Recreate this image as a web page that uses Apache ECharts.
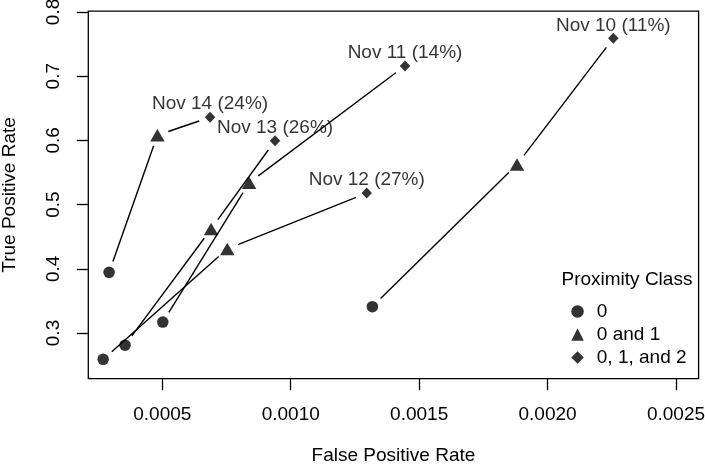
<!DOCTYPE html>
<html>
<head>
<meta charset="utf-8">
<script src="https://cdn.jsdelivr.net/npm/echarts@6/dist/echarts.min.js"></script>
<style>
html,body{margin:0;padding:0;background:#fff;}
#chart{width:705px;height:467px;}
</style>
</head>
<body>
<div id="chart"></div>
<script>
// ---- data ----
const dates = ['Nov 10', 'Nov 11', 'Nov 12', 'Nov 13', 'Nov 14'];
const pcts = ['11%', '14%', '27%', '26%', '24%'];
// Proximity class "0"
const fpr0 = [0.001318, 0.000502, 0.000270, 0.000355, 0.000293];
const tpr0 = [0.341, 0.317, 0.259, 0.281, 0.3945];
// Proximity class "0 and 1"
const fpr01 = [0.001881, 0.000838, 0.000753, 0.000690, 0.000481];
const tpr01 = [0.5625, 0.534, 0.431, 0.462, 0.608];
// Proximity class "0, 1, and 2"
const fpr012 = [0.002256, 0.001445, 0.001296, 0.000939, 0.000686];
const tpr012 = [0.759, 0.716, 0.518, 0.5995, 0.636];

const classNames = ['0', '0 and 1', '0, 1, and 2'];
const xTicks = [0.0005, 0.0010, 0.0015, 0.0020, 0.0025];
const yTicks = [0.3, 0.4, 0.5, 0.6, 0.7, 0.8];
const xLim = [0.0003, 0.0025];
const yLim = [0.25, 0.78];

// R-style 4% axis extension
function ext(l) { const d = (l[1] - l[0]) * 0.04; return [l[0] - d, l[1] + d]; }
const xr = ext(xLim), yr = ext(yLim);

const FONT = "'Liberation Sans', Arial, Helvetica, sans-serif";
const FS = 19;

const pairs = (xs, ys) => xs.map((x, i) => [x, ys[i]]);
const segData = dates.map((d, i) => [fpr0[i], tpr0[i], fpr01[i], tpr01[i], fpr012[i], tpr012[i]]);
const diamondData = dates.map((d, i) => ({ value: [fpr012[i], tpr012[i]], name: d + ' (' + pcts[i] + ')' }));

const chart = echarts.init(document.getElementById('chart'), null, { renderer: 'canvas' });
chart.setOption({
  animation: false,
  backgroundColor: '#fff',
  textStyle: { fontFamily: FONT, color: '#000' },
  grid: {
    left: 88.3, right: 6.4, top: 11.2, bottom: 88.3,
    containLabel: false, outerBoundsMode: 'none',
    show: true, borderColor: '#000', borderWidth: 1.3, backgroundColor: 'transparent'
  },
  title: {
    text: 'Proximity Class', left: 561.5, top: 270, padding: 0,
    textStyle: { fontFamily: FONT, fontSize: FS, fontWeight: 'normal', color: '#000' }
  },
  legend: {
    orient: 'vertical', left: 571.3, top: 302, padding: 0,
    itemWidth: 12.5, itemHeight: 12.5, itemGap: 4,
    selectedMode: false,
    textStyle: { fontFamily: FONT, fontSize: FS, color: '#000', padding: [0, 0, 0, 8] },
    data: [
      { name: classNames[0], icon: 'circle' },
      { name: classNames[1], icon: 'triangle' },
      { name: classNames[2], icon: 'diamond' }
    ]
  },
  xAxis: {
    type: 'value', min: xr[0], max: xr[1],
    name: 'False Positive Rate', nameLocation: 'middle', nameGap: 68,
    nameTextStyle: { fontFamily: FONT, fontSize: FS, color: '#000' },
    splitLine: { show: false },
    axisLine: { show: false },
    axisTick: { show: true, length: 11.5, lineStyle: { color: '#000', width: 1.3 }, customValues: xTicks },
    axisLabel: { show: true, margin: 27, fontFamily: FONT, fontSize: FS, color: '#000', customValues: xTicks,
      formatter: v => v.toFixed(4) }
  },
  yAxis: {
    type: 'value', min: yr[0], max: yr[1],
    name: 'True Positive Rate', nameLocation: 'middle', nameGap: 69,
    nameTextStyle: { fontFamily: FONT, fontSize: FS, color: '#000' },
    splitLine: { show: false },
    axisLine: { show: false },
    axisTick: { show: true, length: 11.5, lineStyle: { color: '#000', width: 1.3 }, customValues: yTicks },
    axisLabel: { show: true, margin: 25, rotate: 90, fontFamily: FONT, fontSize: FS, color: '#000', customValues: yTicks,
      formatter: v => v.toFixed(1) }
  },
  series: [
    {
      type: 'custom', name: 'connect', silent: true, z: 1,
      encode: { x: [0, 2, 4], y: [1, 3, 5] },
      data: segData,
      renderItem: function (params, api) {
        const p = [0, 1, 2].map(k => api.coord([api.value(2 * k), api.value(2 * k + 1)]));
        const gap = 11.5;
        const children = [];
        for (let k = 0; k < 2; k++) {
          const a = p[k], b = p[k + 1];
          const dx = b[0] - a[0], dy = b[1] - a[1];
          const len = Math.sqrt(dx * dx + dy * dy);
          if (len <= 2 * gap) continue;
          const ux = dx / len, uy = dy / len;
          children.push({
            type: 'line',
            shape: { x1: a[0] + ux * gap, y1: a[1] + uy * gap, x2: b[0] - ux * gap, y2: b[1] - uy * gap },
            style: { stroke: '#000', lineWidth: 1.4 }
          });
        }
        return { type: 'group', children: children };
      }
    },
    {
      type: 'scatter', name: classNames[0], z: 3, symbol: 'circle', symbolSize: 11.5,
      itemStyle: { color: '#000' }, data: pairs(fpr0, tpr0)
    },
    {
      type: 'scatter', name: classNames[1], z: 3, symbol: 'triangle', symbolSize: [14.5, 12.5],
      itemStyle: { color: '#000' }, data: pairs(fpr01, tpr01)
    },
    {
      type: 'scatter', name: classNames[2], z: 3, symbol: 'diamond', symbolSize: [10.5, 11],
      itemStyle: { color: '#000' }, data: diamondData,
      label: {
        show: true, position: 'inside', offset: [0, -13],
        formatter: p => p.name, fontFamily: FONT, fontSize: FS, color: '#000'
      }
    }
  ]
});
</script>
</body>
</html>
